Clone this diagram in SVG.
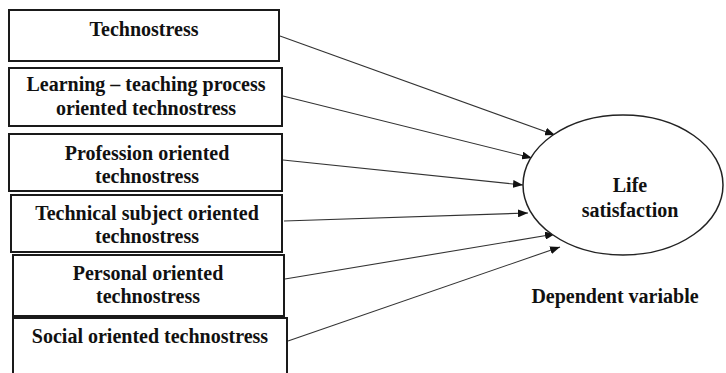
<svg xmlns="http://www.w3.org/2000/svg" width="726" height="373" viewBox="0 0 726 373">
<style>
.box{fill:#fff;stroke:#1a1a1a;stroke-width:2}
.t{font-family:'Liberation Serif','Tinos','Times New Roman','DejaVu Serif',serif;font-weight:700;font-size:20px;fill:#111;text-anchor:middle}
.c{stroke:#333;stroke-width:1.1;fill:none;marker-end:url(#ah)}
</style>
<defs>
<marker id="ah" viewBox="0 0 10 8" refX="10" refY="4" markerWidth="10" markerHeight="8" markerUnits="userSpaceOnUse" orient="auto">
<path d="M0,0 L10,4 L0,8 Z" fill="#111"/>
</marker>
</defs>
<rect width="726" height="373" fill="#fff"/>
<g id="connectors">
<line class="c" x1="280" y1="36" x2="555" y2="135"/>
<line class="c" x1="283" y1="96" x2="532" y2="158"/>
<line class="c" x1="283" y1="160" x2="523" y2="185"/>
<line class="c" x1="284" y1="221" x2="528" y2="213"/>
<line class="c" x1="285" y1="279" x2="555" y2="234"/>
<line class="c" x1="288" y1="341" x2="560" y2="247"/>
</g>
<g id="n1"><rect class="box" x="9" y="10" width="270" height="51"/><text class="t" x="144" y="36">Technostress</text></g>
<g id="n2"><rect class="box" x="9" y="68" width="273" height="58"/><text class="t" x="146" y="91">Learning – teaching process</text><text class="t" x="146" y="115">oriented  technostress</text></g>
<g id="n3"><rect class="box" x="9" y="134" width="273" height="57"/><text class="t" x="147" y="160">Profession oriented</text><text class="t" x="147" y="183">technostress</text></g>
<g id="n4"><rect class="box" x="11" y="195" width="271" height="57"/><text class="t" x="147" y="220">Technical subject oriented</text><text class="t" x="147" y="243">technostress</text></g>
<g id="n5"><rect class="box" x="13" y="255" width="271" height="61"/><text class="t" x="148" y="280">Personal oriented</text><text class="t" x="148" y="303">technostress</text></g>
<g id="n6"><rect class="box" x="13" y="318" width="274" height="60"/><text class="t" x="150" y="343">Social oriented technostress</text></g>
<g id="life"><ellipse cx="623" cy="185" rx="100" ry="70" fill="#fff" stroke="#222" stroke-width="1.5"/><text class="t" x="630" y="192">Life</text><text class="t" x="630" y="217">satisfaction</text></g>
<g id="dep"><text class="t" x="615" y="303">Dependent variable</text></g>
</svg>
